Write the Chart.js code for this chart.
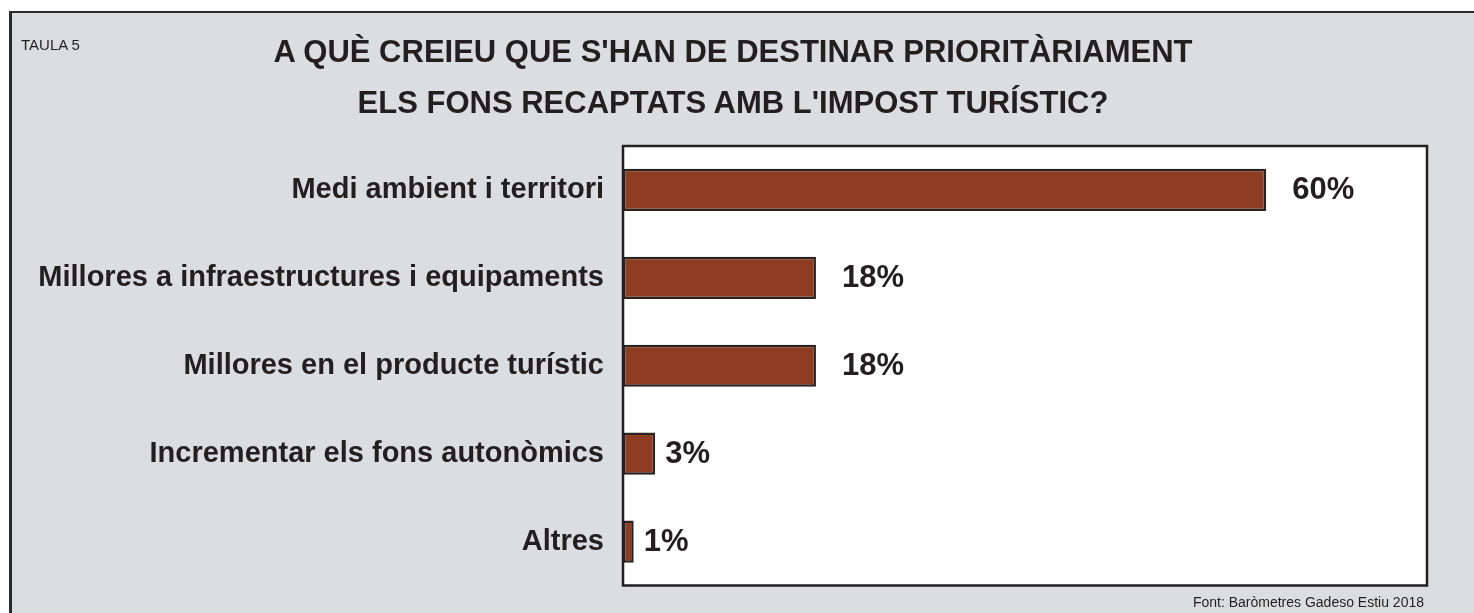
<!DOCTYPE html>
<html>
<head>
<meta charset="utf-8">
<script src="https://cdn.jsdelivr.net/npm/chart.js@4.4.1/dist/chart.umd.min.js"></script>
<style>
  html, body { margin: 0; padding: 0; background: #ffffff; }
  #wrap { position: relative; width: 1474px; height: 613px; overflow: hidden; }
  #frame { position: absolute; left: 9px; top: 11px; width: 2000px; height: 1000px;
           background: #dcdde0; border-left: 3px solid #2a2a2a; border-top: 2px solid #2a2a2a; }
  canvas#c { position: absolute; left: 0; top: 0; }
  .txt { position: absolute; color: #231f20; font-family: "Liberation Sans", Arial, Helvetica, sans-serif; white-space: nowrap; }
  #taula { left: 21px; top: 37px; font-size: 15px; line-height: 15px; }
  #title { left: 0; width: 1466px; top: 26px; text-align: center; font-weight: bold; font-size: 31px; line-height: 51px; }
  #source { right: 50px; top: 595px; font-size: 14px; line-height: 14px; text-align: right; }
</style>
</head>
<body>
<div id="wrap">
  <div id="frame"></div>
  <canvas id="c" width="1474" height="613"></canvas>
  <div class="txt" id="taula">TAULA 5</div>
  <div class="txt" id="title">A QUÈ CREIEU QUE S'HAN DE DESTINAR PRIORITÀRIAMENT<br>ELS FONS RECAPTATS AMB L'IMPOST TURÍSTIC?</div>
  <div class="txt" id="source">Font: Baròmetres Gadeso Estiu 2018</div>
</div>
<script>
const categories = [
  "Medi ambient i territori",
  "Millores a infraestructures i equipaments",
  "Millores en el producte turístic",
  "Incrementar els fons autonòmics",
  "Altres"
];
const values = [60, 18, 18, 3, 1];
const valueLabels = ["60%", "18%", "18%", "3%", "1%"];

const FONT = '"Liberation Sans", Arial, Helvetica, sans-serif';
const INK = '#231f20';

const plotBox = {
  id: 'plotBox',
  beforeDatasetsDraw(chart) {
    const { ctx, chartArea: a } = chart;
    ctx.save();
    ctx.fillStyle = '#ffffff';
    ctx.fillRect(a.left, a.top, a.right - a.left, a.bottom - a.top);
    ctx.restore();
  },
  afterDatasetsDraw(chart) {
    const { ctx, chartArea: a } = chart;
    ctx.save();
    ctx.strokeStyle = INK;
    ctx.lineWidth = 2.5;
    ctx.strokeRect(a.left, a.top, a.right - a.left, a.bottom - a.top);
    // value labels
    const meta = chart.getDatasetMeta(0);
    ctx.fillStyle = INK;
    ctx.font = 'bold 31px ' + FONT;
    ctx.textAlign = 'left';
    ctx.textBaseline = 'middle';
    meta.data.forEach((bar, i) => {
      const gap = values[i] >= 10 ? 26 : 10;
      ctx.fillText(valueLabels[i], bar.x + gap, bar.y + 1);
    });
    ctx.restore();
  }
};

new Chart(document.getElementById('c'), {
  type: 'bar',
  data: {
    labels: categories,
    datasets: [{
      data: values,
      backgroundColor: '#8e3c22',
      borderColor: '#2a2320',
      borderWidth: 2.5,
      borderSkipped: false,
      categoryPercentage: 1.0,
      barPercentage: 0.48
    }]
  },
  options: {
    indexAxis: 'y',
    responsive: false,
    devicePixelRatio: 1,
    animation: false,
    layout: { padding: { top: 146, right: 47, bottom: 27.5, left: 0 } },
    plugins: { legend: { display: false }, tooltip: { enabled: false }, title: { display: false } },
    scales: {
      x: { display: false, min: 0, max: 75 },
      y: {
        afterFit(scale) { scale.width = 623; scale.paddingTop = 0; scale.paddingBottom = 0; },
        grid: { display: false, drawTicks: false },
        border: { display: false },
        ticks: { color: INK, padding: 19, font: { family: FONT, size: 29, weight: 'bold' } }
      }
    }
  },
  plugins: [plotBox]
});
</script>
</body>
</html>
